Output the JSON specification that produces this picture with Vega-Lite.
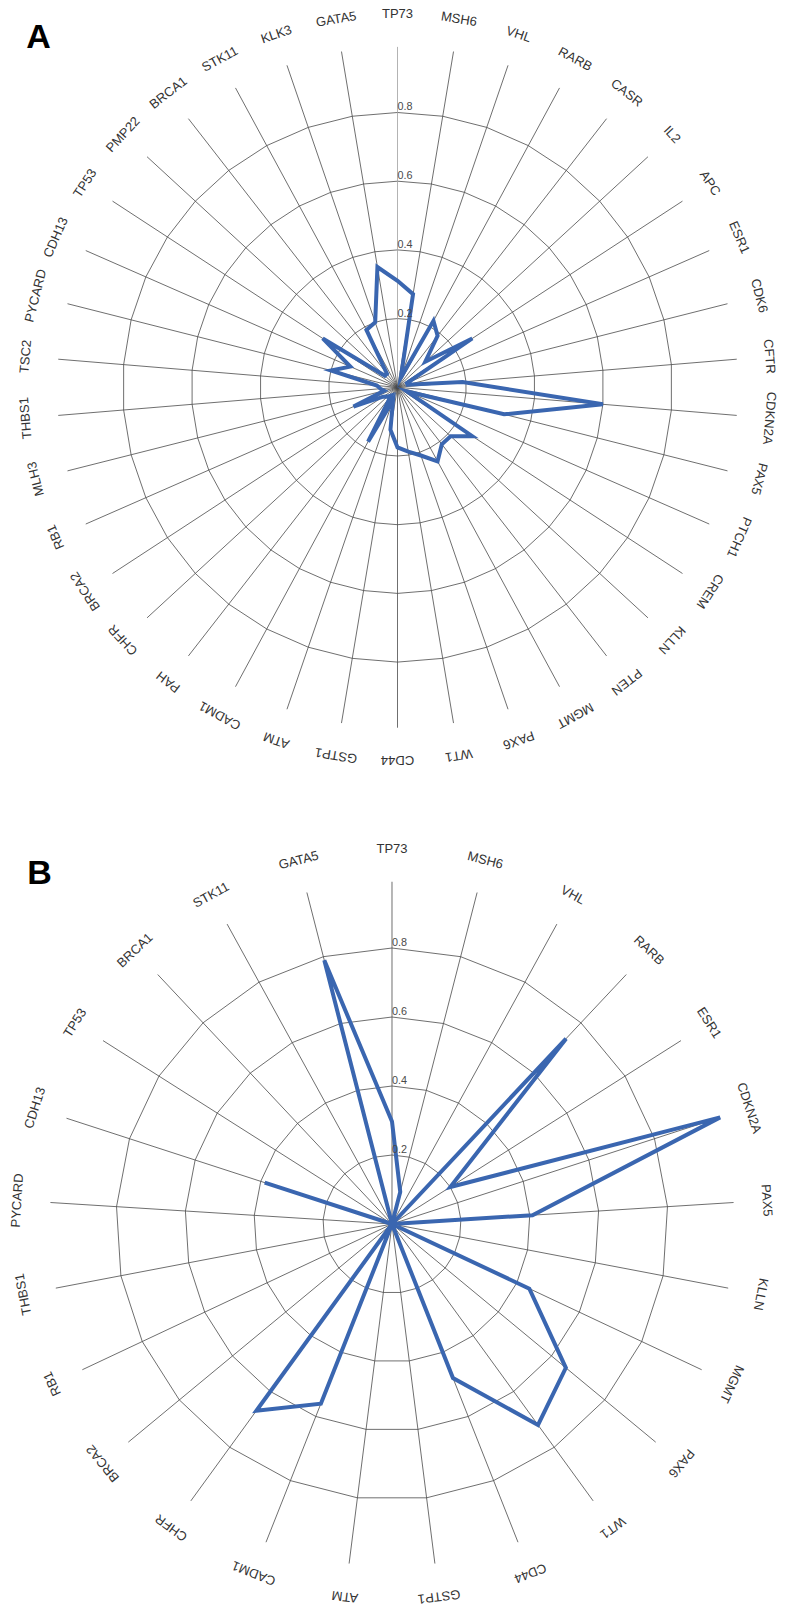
{
  "$schema": "https://vega.github.io/schema/vega-lite/v6.json",
  "padding": 0,
  "spacing": 0,
  "background": "white",
  "config": {"view": {"stroke": null}, "concat": {"spacing": 0}},
  "resolve": {"scale": {"x": "independent", "y": "independent"}},
  "datasets": {
    "a": [
      {"i": 0, "gene": "TP73", "v": 0.31},
      {"i": 1, "gene": "MSH6", "v": 0.275},
      {"i": 2, "gene": "VHL", "v": 0.03},
      {"i": 3, "gene": "RARB", "v": 0.22},
      {"i": 4, "gene": "CASR", "v": 0.19},
      {"i": 5, "gene": "IL2", "v": 0.11},
      {"i": 6, "gene": "APC", "v": 0.26},
      {"i": 7, "gene": "ESR1", "v": 0.03},
      {"i": 8, "gene": "CDK6", "v": 0.03},
      {"i": 9, "gene": "CFTR", "v": 0.19},
      {"i": 10, "gene": "CDKN2A", "v": 0.6},
      {"i": 11, "gene": "PAX5", "v": 0.32},
      {"i": 12, "gene": "PTCH1", "v": 0.03},
      {"i": 13, "gene": "CREM", "v": 0.26},
      {"i": 14, "gene": "KLLN", "v": 0.21},
      {"i": 15, "gene": "PTEN", "v": 0.21},
      {"i": 16, "gene": "MGMT", "v": 0.245},
      {"i": 17, "gene": "PAX6", "v": 0.21},
      {"i": 18, "gene": "WT1", "v": 0.19},
      {"i": 19, "gene": "CD44", "v": 0.175},
      {"i": 20, "gene": "GSTP1", "v": 0.125},
      {"i": 21, "gene": "ATM", "v": 0.04},
      {"i": 22, "gene": "CADM1", "v": 0.18},
      {"i": 23, "gene": "PAH", "v": 0.03},
      {"i": 24, "gene": "CHFR", "v": 0.04},
      {"i": 25, "gene": "BRCA2", "v": 0.05},
      {"i": 26, "gene": "RB1", "v": 0.14},
      {"i": 27, "gene": "MLH3", "v": 0.04},
      {"i": 28, "gene": "THBS1", "v": 0.05},
      {"i": 29, "gene": "TSC2", "v": 0.06},
      {"i": 30, "gene": "PYCARD", "v": 0.2},
      {"i": 31, "gene": "CDH13", "v": 0.15},
      {"i": 32, "gene": "TP53", "v": 0.26},
      {"i": 33, "gene": "PMP22", "v": 0.05},
      {"i": 34, "gene": "BRCA1", "v": 0.05},
      {"i": 35, "gene": "STK11", "v": 0.19},
      {"i": 36, "gene": "KLK3", "v": 0.2},
      {"i": 37, "gene": "GATA5", "v": 0.355}
    ],
    "b": [
      {"i": 0, "gene": "TP73", "v": 0.297},
      {"i": 1, "gene": "MSH6", "v": 0.096},
      {"i": 2, "gene": "VHL", "v": 0},
      {"i": 3, "gene": "RARB", "v": 0.737},
      {"i": 4, "gene": "ESR1", "v": 0.2},
      {"i": 5, "gene": "CDKN2A", "v": 1.0},
      {"i": 6, "gene": "PAX5", "v": 0.408},
      {"i": 7, "gene": "KLLN", "v": 0},
      {"i": 8, "gene": "MGMT", "v": 0.44},
      {"i": 9, "gene": "PAX6", "v": 0.654},
      {"i": 10, "gene": "WT1", "v": 0.72},
      {"i": 11, "gene": "CD44", "v": 0.48},
      {"i": 12, "gene": "GSTP1", "v": 0},
      {"i": 13, "gene": "ATM", "v": 0},
      {"i": 14, "gene": "CADM1", "v": 0.56},
      {"i": 15, "gene": "CHFR", "v": 0.669},
      {"i": 16, "gene": "BRCA2", "v": 0},
      {"i": 17, "gene": "RB1", "v": 0},
      {"i": 18, "gene": "THBS1", "v": 0},
      {"i": 19, "gene": "PYCARD", "v": 0},
      {"i": 20, "gene": "CDH13", "v": 0.388},
      {"i": 21, "gene": "TP53", "v": 0},
      {"i": 22, "gene": "BRCA1", "v": 0},
      {"i": 23, "gene": "STK11", "v": 0},
      {"i": 24, "gene": "GATA5", "v": 0.789}
    ],
    "ticks": [{"lv": 0.2}, {"lv": 0.4}, {"lv": 0.6}, {"lv": 0.8}]
  },
  "vconcat": [
    {
      "width": 786,
      "height": 800,
      "layer": [
        {
          "data": {"name": "a"},
          "transform": [
            {"calculate": "2*PI*datum.i/38", "as": "th"},
            {"calculate": "[0.2,0.4,0.6,0.8]", "as": "lv"},
            {"flatten": ["lv"]},
            {"calculate": "datum.lv*sin(datum.th)", "as": "gx"},
            {"calculate": "datum.lv*cos(datum.th)", "as": "gy"}
          ],
          "mark": {"type": "line", "interpolate": "linear-closed", "stroke": "#4a4a4a", "strokeWidth": 0.8},
          "encoding": {
            "x": {"field": "gx", "type": "quantitative", "scale": {"domain": [-1.15721, 1.131], "nice": false, "zero": false}, "axis": null},
            "y": {"field": "gy", "type": "quantitative", "scale": {"domain": [-1.20146, 1.12751], "nice": false, "zero": false}, "axis": null},
            "detail": {"field": "lv", "type": "nominal"},
            "order": {"field": "i", "type": "quantitative"}
          }
        },
        {
          "data": {"name": "a"},
          "transform": [
            {"calculate": "2*PI*datum.i/38", "as": "th"},
            {"calculate": "0.991*sin(datum.th)", "as": "sx"},
            {"calculate": "0.991*cos(datum.th)", "as": "sy"}
          ],
          "mark": {"type": "rule", "strokeWidth": 0.8},
          "encoding": {
            "x": {"field": "sx", "type": "quantitative", "scale": {"domain": [-1.15721, 1.131], "nice": false, "zero": false}, "axis": null},
            "y": {"field": "sy", "type": "quantitative", "scale": {"domain": [-1.20146, 1.12751], "nice": false, "zero": false}, "axis": null},
            "x2": {"datum": 0},
            "y2": {"datum": 0},
            "stroke": {"condition": {"test": "datum.i == 0", "value": "#a0a0a0"}, "value": "#4a4a4a"}
          }
        },
        {
          "data": {"name": "a"},
          "transform": [
            {"calculate": "2*PI*datum.i/38", "as": "th"},
            {"calculate": "datum.v*sin(datum.th)", "as": "px"},
            {"calculate": "datum.v*cos(datum.th)", "as": "py"}
          ],
          "mark": {"type": "line", "interpolate": "linear-closed", "stroke": "#3a66b0", "strokeWidth": 4, "strokeMiterLimit": 6},
          "encoding": {
            "x": {"field": "px", "type": "quantitative", "scale": {"domain": [-1.15721, 1.131], "nice": false, "zero": false}, "axis": null},
            "y": {"field": "py", "type": "quantitative", "scale": {"domain": [-1.20146, 1.12751], "nice": false, "zero": false}, "axis": null},
            "order": {"field": "i", "type": "quantitative"}
          }
        },
        {
          "data": {"name": "a"},
          "transform": [
            {"calculate": "2*PI*datum.i/38", "as": "th"},
            {"calculate": "1.086*sin(datum.th)", "as": "lx"},
            {"calculate": "1.086*cos(datum.th)", "as": "ly"},
            {"calculate": "360*datum.i/38", "as": "deg"}
          ],
          "mark": {"type": "text", "font": "Liberation Sans", "fontSize": 13, "fill": "#333333", "align": "center", "baseline": "middle"},
          "encoding": {
            "x": {"field": "lx", "type": "quantitative", "scale": {"domain": [-1.15721, 1.131], "nice": false, "zero": false}, "axis": null},
            "y": {"field": "ly", "type": "quantitative", "scale": {"domain": [-1.20146, 1.12751], "nice": false, "zero": false}, "axis": null},
            "text": {"field": "gene"},
            "angle": {"field": "deg", "type": "quantitative", "scale": {"domain": [0, 360], "range": [0, 360]}, "legend": null}
          }
        },
        {
          "data": {"name": "ticks"},
          "mark": {"type": "text", "font": "Liberation Sans", "fontSize": 10.8, "fill": "#4a4a4a", "align": "left", "baseline": "alphabetic", "dx": 0, "dy": -2},
          "encoding": {
            "x": {"datum": 0, "type": "quantitative", "scale": {"domain": [-1.15721, 1.131], "nice": false, "zero": false}, "axis": null},
            "y": {"field": "lv", "type": "quantitative", "scale": {"domain": [-1.20146, 1.12751], "nice": false, "zero": false}, "axis": null},
            "text": {"field": "lv", "type": "quantitative", "format": ".1f"}
          }
        },
        {
          "data": {"values": [{"panel": "A"}]},
          "mark": {"type": "text", "font": "Liberation Sans", "fontSize": 34, "fontWeight": "bold", "fill": "#000000", "align": "center", "baseline": "middle"},
          "encoding": {
            "x": {"datum": -1.04512, "type": "quantitative", "scale": {"domain": [-1.15721, 1.131], "nice": false, "zero": false}, "axis": null},
            "y": {"datum": 1.01543, "type": "quantitative", "scale": {"domain": [-1.20146, 1.12751], "nice": false, "zero": false}, "axis": null},
            "text": {"field": "panel"}
          }
        }
      ]
    },
    {
      "width": 786,
      "height": 815,
      "layer": [
        {
          "data": {"name": "b"},
          "transform": [
            {"calculate": "2*PI*datum.i/25", "as": "th"},
            {"calculate": "[0.2,0.4,0.6,0.8]", "as": "lv"},
            {"flatten": ["lv"]},
            {"calculate": "datum.lv*sin(datum.th)", "as": "gx"},
            {"calculate": "datum.lv*cos(datum.th)", "as": "gy"}
          ],
          "mark": {"type": "line", "interpolate": "linear-closed", "stroke": "#4a4a4a", "strokeWidth": 0.8},
          "encoding": {
            "x": {"field": "gx", "type": "quantitative", "scale": {"domain": [-1.13623, 1.14203], "nice": false, "zero": false}, "axis": null},
            "y": {"field": "gy", "type": "quantitative", "scale": {"domain": [-1.13333, 1.22899], "nice": false, "zero": false}, "axis": null},
            "detail": {"field": "lv", "type": "nominal"},
            "order": {"field": "i", "type": "quantitative"}
          }
        },
        {
          "data": {"name": "b"},
          "transform": [
            {"calculate": "2*PI*datum.i/25", "as": "th"},
            {"calculate": "0.992*sin(datum.th)", "as": "sx"},
            {"calculate": "0.992*cos(datum.th)", "as": "sy"}
          ],
          "mark": {"type": "rule", "strokeWidth": 0.8, "stroke": "#4a4a4a"},
          "encoding": {
            "x": {"field": "sx", "type": "quantitative", "scale": {"domain": [-1.13623, 1.14203], "nice": false, "zero": false}, "axis": null},
            "y": {"field": "sy", "type": "quantitative", "scale": {"domain": [-1.13333, 1.22899], "nice": false, "zero": false}, "axis": null},
            "x2": {"datum": 0},
            "y2": {"datum": 0}
          }
        },
        {
          "data": {"name": "b"},
          "transform": [
            {"calculate": "2*PI*datum.i/25", "as": "th"},
            {"calculate": "datum.v*sin(datum.th)", "as": "px"},
            {"calculate": "datum.v*cos(datum.th)", "as": "py"}
          ],
          "mark": {"type": "line", "interpolate": "linear-closed", "stroke": "#3a66b0", "strokeWidth": 4, "strokeMiterLimit": 6},
          "encoding": {
            "x": {"field": "px", "type": "quantitative", "scale": {"domain": [-1.13623, 1.14203], "nice": false, "zero": false}, "axis": null},
            "y": {"field": "py", "type": "quantitative", "scale": {"domain": [-1.13333, 1.22899], "nice": false, "zero": false}, "axis": null},
            "order": {"field": "i", "type": "quantitative"}
          }
        },
        {
          "data": {"name": "b"},
          "transform": [
            {"calculate": "2*PI*datum.i/25", "as": "th"},
            {"calculate": "1.088*sin(datum.th)", "as": "lx"},
            {"calculate": "1.088*cos(datum.th)", "as": "ly"},
            {"calculate": "360*datum.i/25", "as": "deg"}
          ],
          "mark": {"type": "text", "font": "Liberation Sans", "fontSize": 13, "fill": "#333333", "align": "center", "baseline": "middle"},
          "encoding": {
            "x": {"field": "lx", "type": "quantitative", "scale": {"domain": [-1.13623, 1.14203], "nice": false, "zero": false}, "axis": null},
            "y": {"field": "ly", "type": "quantitative", "scale": {"domain": [-1.13333, 1.22899], "nice": false, "zero": false}, "axis": null},
            "text": {"field": "gene"},
            "angle": {"field": "deg", "type": "quantitative", "scale": {"domain": [0, 360], "range": [0, 360]}, "legend": null}
          }
        },
        {
          "data": {"name": "ticks"},
          "mark": {"type": "text", "font": "Liberation Sans", "fontSize": 10.8, "fill": "#4a4a4a", "align": "left", "baseline": "alphabetic", "dx": 0, "dy": -2},
          "encoding": {
            "x": {"datum": 0, "type": "quantitative", "scale": {"domain": [-1.13623, 1.14203], "nice": false, "zero": false}, "axis": null},
            "y": {"field": "lv", "type": "quantitative", "scale": {"domain": [-1.13333, 1.22899], "nice": false, "zero": false}, "axis": null},
            "text": {"field": "lv", "type": "quantitative", "format": ".1f"}
          }
        },
        {
          "data": {"values": [{"panel": "B"}]},
          "mark": {"type": "text", "font": "Liberation Sans", "fontSize": 34, "fontWeight": "bold", "fill": "#000000", "align": "center", "baseline": "middle"},
          "encoding": {
            "x": {"datum": -1.02145, "type": "quantitative", "scale": {"domain": [-1.13623, 1.14203], "nice": false, "zero": false}, "axis": null},
            "y": {"datum": 1.01594, "type": "quantitative", "scale": {"domain": [-1.13333, 1.22899], "nice": false, "zero": false}, "axis": null},
            "text": {"field": "panel"}
          }
        }
      ]
    }
  ]
}
